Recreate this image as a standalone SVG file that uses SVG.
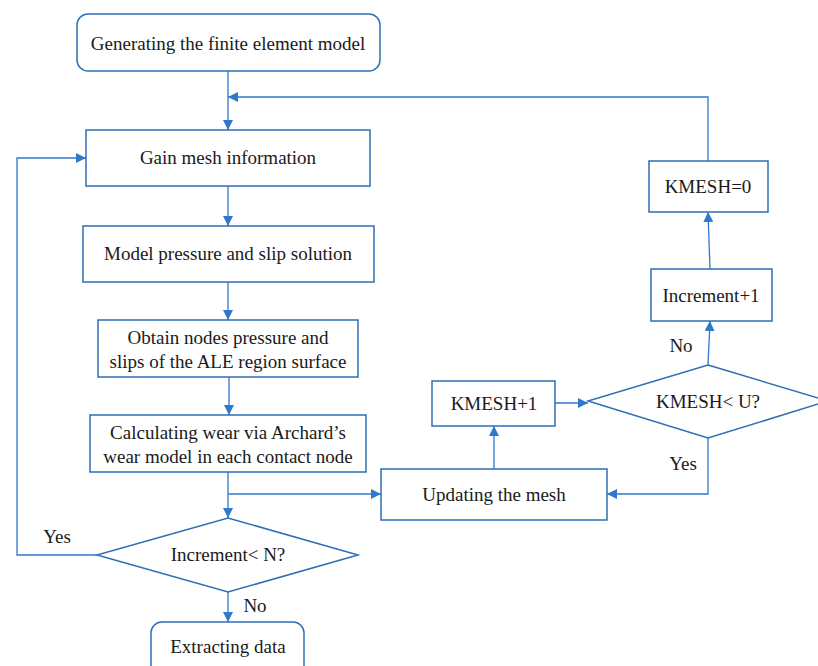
<svg xmlns="http://www.w3.org/2000/svg" width="818" height="666" viewBox="0 0 818 666">
<defs>
<marker id="ah" viewBox="0 0 10 10" refX="10" refY="5" markerWidth="10" markerHeight="10" markerUnits="userSpaceOnUse" orient="auto">
<path d="M0,0 L10,5 L0,10 z" fill="#2F78CC"/>
</marker>
<style>
.box{fill:#fff;stroke:#2E6FB5;stroke-width:1.5}
.t{font-family:"Liberation Serif","Times New Roman",serif;font-size:19px;fill:#1a1a1a;text-anchor:middle}
.c{fill:none;stroke:#2F78CC;stroke-width:1.3}
.ca{fill:none;stroke:#2F78CC;stroke-width:1.3;marker-end:url(#ah)}
</style>
</defs>
<rect width="818" height="666" fill="#fff"/>
<g id="connectors">
<path class="ca" d="M228,71 V130"/>
<path class="ca" d="M708,161 V97 H228"/>
<path class="ca" d="M228,186 V226"/>
<path class="ca" d="M228,282 V320"/>
<path class="ca" d="M229,377 V415"/>
<path class="ca" d="M228,472 V518"/>
<path class="ca" d="M228,494 H381"/>
<path class="ca" d="M97,555 H17 V158 H86"/>
<path class="ca" d="M228,592 V622"/>
<path class="ca" d="M494,469 V426"/>
<path class="ca" d="M555,403 H588"/>
<path class="ca" d="M708,438 V494 H607"/>
<path class="ca" d="M708,365 L710,321"/>
<path class="ca" d="M710,269 L708,212"/>
</g>
<g id="n_generate"><rect class="box" x="77" y="14" width="303" height="57" rx="11"/><text class="t" x="228" y="50">Generating the finite element model</text></g>
<g id="n_gain"><rect class="box" x="86" y="130" width="284" height="56"/><text class="t" x="228" y="164">Gain mesh information</text></g>
<g id="n_model"><rect class="box" x="83" y="226" width="291" height="56"/><text class="t" x="228" y="260">Model pressure and slip solution</text></g>
<g id="n_obtain"><rect class="box" x="98" y="320" width="260" height="57"/><text class="t" x="228" y="344">Obtain nodes pressure and</text><text class="t" x="228" y="368">slips of the ALE region surface</text></g>
<g id="n_calc"><rect class="box" x="90" y="415" width="276" height="57"/><text class="t" x="228" y="439">Calculating wear via Archard’s</text><text class="t" x="228" y="463">wear model in each contact node</text></g>
<g id="n_incN"><polygon class="box" points="228,518 358,555 228,592 97,555"/><text class="t" x="228" y="561">Increment&lt; N?</text></g>
<g id="n_extract"><rect class="box" x="151" y="622" width="153" height="60" rx="11"/><text class="t" x="228" y="653">Extracting data</text></g>
<g id="n_update"><rect class="box" x="381" y="469" width="226" height="51"/><text class="t" x="494" y="501">Updating the mesh</text></g>
<g id="n_kplus"><rect class="box" x="432" y="381" width="123" height="45"/><text class="t" x="494" y="410">KMESH+1</text></g>
<g id="n_kU"><polygon class="box" points="708,365 828,401 708,438 588,401"/><text class="t" x="708" y="408">KMESH&lt; U?</text></g>
<g id="n_inc1"><rect class="box" x="651" y="269" width="121" height="52"/><text class="t" x="711" y="302">Increment+1</text></g>
<g id="n_k0"><rect class="box" x="649" y="161" width="119" height="51"/><text class="t" x="708" y="193">KMESH=0</text></g>
<g id="labels">
<text class="t" x="57" y="543">Yes</text>
<text class="t" x="255" y="612">No</text>
<text class="t" x="681" y="352">No</text>
<text class="t" x="683" y="470">Yes</text>
</g>
</svg>
